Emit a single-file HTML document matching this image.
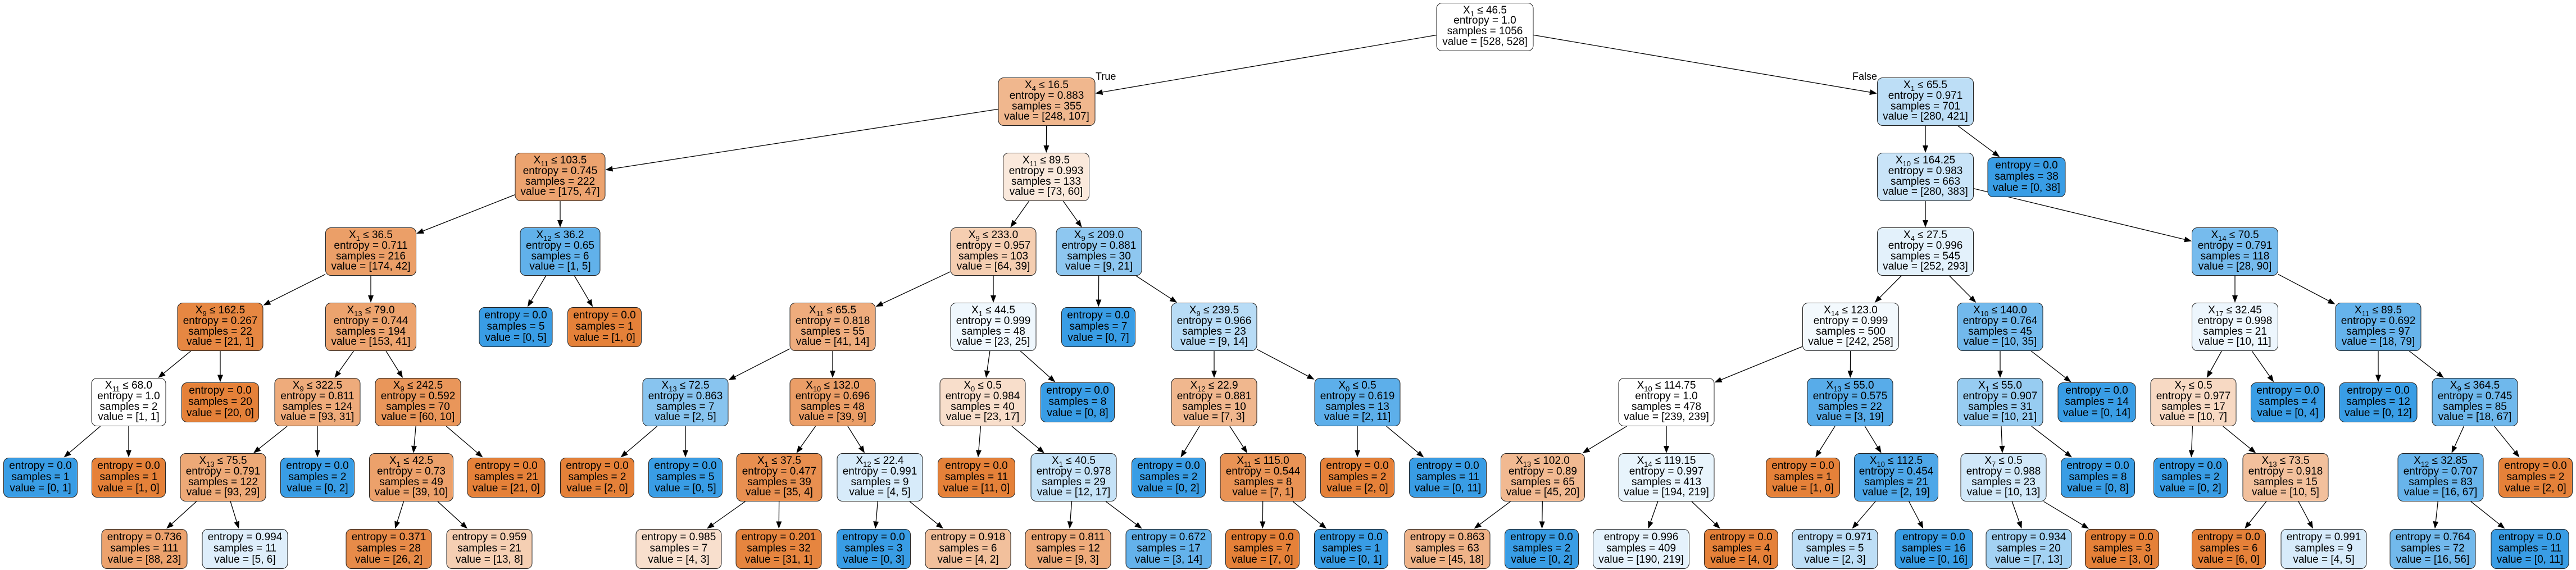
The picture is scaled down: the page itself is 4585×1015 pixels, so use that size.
<!DOCTYPE html>
<html><head><meta charset="utf-8">
<style>
html,body{margin:0;padding:0;background:#fff;}
body{width:4585px;height:1015px;position:relative;overflow:hidden;font-family:"Liberation Sans",Arial,sans-serif;}
svg#edges{position:absolute;left:0;top:0;z-index:0;}
.n{position:absolute;box-sizing:border-box;border:1.3px solid #222;border-radius:10px;transform:translateX(-50%);
 top:calc(var(--c) - var(--h)/2);display:block;text-align:center;padding-top:4px;
 font-size:19px;color:#000;white-space:nowrap;z-index:1;background-clip:padding-box;}
.d{--h:86px;height:86px;line-height:18.8px;}
.f{--h:71px;height:71px;line-height:20px;}
.l0{--c:47.7px}.l1{--c:181px}.l2{--c:315px}.l3{--c:448px}.l4{--c:582px}.l5{--c:716px}.l6{--c:850px}.l7{--c:977px}
sub{font-size:13px;vertical-align:-5px;line-height:0;}
.lab{position:absolute;font-size:18px;z-index:2;}
</style></head><body>
<svg id="edges" width="4585" height="1015"></svg>
<div class="lab" style="left:1950px;top:126px">True</div>
<div class="lab" style="left:3297px;top:126px">False</div>

<div id="n0" class="n d l0" style="left:2643px;width:173px;background:#fff">X<sub>1</sub> ≤ 46.5<br>entropy = 1.0<br>samples = 1056<br>value = [528, 528]</div>
<div id="n1" class="n d l1" style="left:1863px;width:173px;background:rgba(229,129,57,.569)">X<sub>4</sub> ≤ 16.5<br>entropy = 0.883<br>samples = 355<br>value = [248, 107]</div>
<div id="n2" class="n d l1" style="left:3427px;width:172px;background:rgba(57,157,229,.335)">X<sub>1</sub> ≤ 65.5<br>entropy = 0.971<br>samples = 701<br>value = [280, 421]</div>
<div id="n3" class="n d l2" style="left:997px;width:161px;background:rgba(229,129,57,.731)">X<sub>11</sub> ≤ 103.5<br>entropy = 0.745<br>samples = 222<br>value = [175, 47]</div>
<div id="n4" class="n d l2" style="left:1862px;width:154px;background:rgba(229,129,57,.178)">X<sub>11</sub> ≤ 89.5<br>entropy = 0.993<br>samples = 133<br>value = [73, 60]</div>
<div id="n5" class="n d l2" style="left:3427px;width:172px;background:rgba(57,157,229,.269)">X<sub>10</sub> ≤ 164.25<br>entropy = 0.983<br>samples = 663<br>value = [280, 383]</div>
<div id="n6" class="n f l2" style="left:3607px;width:139px;background:rgb(57,157,229)">entropy = 0.0<br>samples = 38<br>value = [0, 38]</div>
<div id="n7" class="n d l3" style="left:660px;width:162px;background:rgba(229,129,57,.759)">X<sub>1</sub> ≤ 36.5<br>entropy = 0.711<br>samples = 216<br>value = [174, 42]</div>
<div id="n8" class="n d l3" style="left:997px;width:143px;background:rgba(57,157,229,.8)">X<sub>12</sub> ≤ 36.2<br>entropy = 0.65<br>samples = 6<br>value = [1, 5]</div>
<div id="n9" class="n d l3" style="left:1768px;width:153px;background:rgba(229,129,57,.391)">X<sub>9</sub> ≤ 233.0<br>entropy = 0.957<br>samples = 103<br>value = [64, 39]</div>
<div id="n10" class="n d l3" style="left:1956px;width:153px;background:rgba(57,157,229,.571)">X<sub>9</sub> ≤ 209.0<br>entropy = 0.881<br>samples = 30<br>value = [9, 21]</div>
<div id="n11" class="n d l3" style="left:3427px;width:172px;background:rgba(57,157,229,.14)">X<sub>4</sub> ≤ 27.5<br>entropy = 0.996<br>samples = 545<br>value = [252, 293]</div>
<div id="n12" class="n d l3" style="left:3978px;width:154px;background:rgba(57,157,229,.689)">X<sub>14</sub> ≤ 70.5<br>entropy = 0.791<br>samples = 118<br>value = [28, 90]</div>

<div id="n13" class="n d l4" style="left:392px;width:153px;background:rgba(229,129,57,.952)">X<sub>9</sub> ≤ 162.5<br>entropy = 0.267<br>samples = 22<br>value = [21, 1]</div>
<div id="n14" class="n d l4" style="left:660px;width:162px;background:rgba(229,129,57,.732)">X<sub>13</sub> ≤ 79.0<br>entropy = 0.744<br>samples = 194<br>value = [153, 41]</div>
<div id="n15" class="n f l4" style="left:918px;width:131px;background:rgb(57,157,229)">entropy = 0.0<br>samples = 5<br>value = [0, 5]</div>
<div id="n16" class="n f l4" style="left:1076px;width:132px;background:rgb(229,129,57)">entropy = 0.0<br>samples = 1<br>value = [1, 0]</div>
<div id="n17" class="n d l4" style="left:1482px;width:153px;background:rgba(229,129,57,.659)">X<sub>11</sub> ≤ 65.5<br>entropy = 0.818<br>samples = 55<br>value = [41, 14]</div>
<div id="n18" class="n d l4" style="left:1768px;width:153px;background:rgba(57,157,229,.08)">X<sub>1</sub> ≤ 44.5<br>entropy = 0.999<br>samples = 48<br>value = [23, 25]</div>
<div id="n19" class="n f l4" style="left:1955px;width:132px;background:rgb(57,157,229)">entropy = 0.0<br>samples = 7<br>value = [0, 7]</div>
<div id="n20" class="n d l4" style="left:2161px;width:153px;background:rgba(57,157,229,.357)">X<sub>9</sub> ≤ 239.5<br>entropy = 0.966<br>samples = 23<br>value = [9, 14]</div>
<div id="n21" class="n d l4" style="left:3294px;width:172px;background:rgba(57,157,229,.062)">X<sub>14</sub> ≤ 123.0<br>entropy = 0.999<br>samples = 500<br>value = [242, 258]</div>
<div id="n22" class="n d l4" style="left:3560px;width:153px;background:rgba(57,157,229,.714)">X<sub>10</sub> ≤ 140.0<br>entropy = 0.764<br>samples = 45<br>value = [10, 35]</div>
<div id="n23" class="n d l4" style="left:3978px;width:154px;background:rgba(57,157,229,.091)">X<sub>17</sub> ≤ 32.45<br>entropy = 0.998<br>samples = 21<br>value = [10, 11]</div>
<div id="n24" class="n d l4" style="left:4233px;width:153px;background:rgba(57,157,229,.772)">X<sub>11</sub> ≤ 89.5<br>entropy = 0.692<br>samples = 97<br>value = [18, 79]</div>

<div id="n25" class="n d l5" style="left:229px;width:133px;background:#fff">X<sub>11</sub> ≤ 68.0<br>entropy = 1.0<br>samples = 2<br>value = [1, 1]</div>
<div id="n26" class="n f l5" style="left:392px;width:138px;background:rgb(229,129,57)">entropy = 0.0<br>samples = 20<br>value = [20, 0]</div>
<div id="n27" class="n d l5" style="left:565px;width:153px;background:rgba(229,129,57,.667)">X<sub>9</sub> ≤ 322.5<br>entropy = 0.811<br>samples = 124<br>value = [93, 31]</div>
<div id="n28" class="n d l5" style="left:744px;width:153px;background:rgba(229,129,57,.833)">X<sub>9</sub> ≤ 242.5<br>entropy = 0.592<br>samples = 70<br>value = [60, 10]</div>
<div id="n29" class="n d l5" style="left:1220px;width:153px;background:rgba(57,157,229,.6)">X<sub>13</sub> ≤ 72.5<br>entropy = 0.863<br>samples = 7<br>value = [2, 5]</div>
<div id="n30" class="n d l5" style="left:1482px;width:153px;background:rgba(229,129,57,.769)">X<sub>10</sub> ≤ 132.0<br>entropy = 0.696<br>samples = 48<br>value = [39, 9]</div>
<div id="n31" class="n d l5" style="left:1749px;width:153px;background:rgba(229,129,57,.261)">X<sub>0</sub> ≤ 0.5<br>entropy = 0.984<br>samples = 40<br>value = [23, 17]</div>
<div id="n32" class="n f l5" style="left:1918px;width:132px;background:rgb(57,157,229)">entropy = 0.0<br>samples = 8<br>value = [0, 8]</div>
<div id="n33" class="n d l5" style="left:2161px;width:153px;background:rgba(229,129,57,.571)">X<sub>12</sub> ≤ 22.9<br>entropy = 0.881<br>samples = 10<br>value = [7, 3]</div>
<div id="n34" class="n d l5" style="left:2416px;width:153px;background:rgba(57,157,229,.818)">X<sub>0</sub> ≤ 0.5<br>entropy = 0.619<br>samples = 13<br>value = [2, 11]</div>
<div id="n35" class="n d l5" style="left:2966px;width:171px;background:#fff">X<sub>10</sub> ≤ 114.75<br>entropy = 1.0<br>samples = 478<br>value = [239, 239]</div>
<div id="n36" class="n d l5" style="left:3293px;width:153px;background:rgba(57,157,229,.842)">X<sub>13</sub> ≤ 55.0<br>entropy = 0.575<br>samples = 22<br>value = [3, 19]</div>
<div id="n37" class="n d l5" style="left:3560px;width:153px;background:rgba(57,157,229,.524)">X<sub>1</sub> ≤ 55.0<br>entropy = 0.907<br>samples = 31<br>value = [10, 21]</div>
<div id="n38" class="n f l5" style="left:3732px;width:139px;background:rgb(57,157,229)">entropy = 0.0<br>samples = 14<br>value = [0, 14]</div>
<div id="n39" class="n d l5" style="left:3904px;width:153px;background:rgba(229,129,57,.3)">X<sub>7</sub> ≤ 0.5<br>entropy = 0.977<br>samples = 17<br>value = [10, 7]</div>
<div id="n40" class="n f l5" style="left:4072px;width:132px;background:rgb(57,157,229)">entropy = 0.0<br>samples = 4<br>value = [0, 4]</div>
<div id="n41" class="n f l5" style="left:4233px;width:139px;background:rgb(57,157,229)">entropy = 0.0<br>samples = 12<br>value = [0, 12]</div>
<div id="n42" class="n d l5" style="left:4405px;width:153px;background:rgba(57,157,229,.731)">X<sub>9</sub> ≤ 364.5<br>entropy = 0.745<br>samples = 85<br>value = [18, 67]</div>

<div id="n43" class="n f l6" style="left:72px;width:132px;background:rgb(57,157,229)">entropy = 0.0<br>samples = 1<br>value = [0, 1]</div>
<div id="n44" class="n f l6" style="left:229px;width:132px;background:rgb(229,129,57)">entropy = 0.0<br>samples = 1<br>value = [1, 0]</div>
<div id="n45" class="n d l6" style="left:397px;width:153px;background:rgba(229,129,57,.688)">X<sub>13</sub> ≤ 75.5<br>entropy = 0.791<br>samples = 122<br>value = [93, 29]</div>
<div id="n46" class="n f l6" style="left:565px;width:132px;background:rgb(57,157,229)">entropy = 0.0<br>samples = 2<br>value = [0, 2]</div>
<div id="n47" class="n d l6" style="left:732px;width:150px;background:rgba(229,129,57,.744)">X<sub>1</sub> ≤ 42.5<br>entropy = 0.73<br>samples = 49<br>value = [39, 10]</div>
<div id="n48" class="n f l6" style="left:901px;width:139px;background:rgb(229,129,57)">entropy = 0.0<br>samples = 21<br>value = [21, 0]</div>
<div id="n49" class="n f l6" style="left:1063px;width:132px;background:rgb(229,129,57)">entropy = 0.0<br>samples = 2<br>value = [2, 0]</div>
<div id="n50" class="n f l6" style="left:1220px;width:132px;background:rgb(57,157,229)">entropy = 0.0<br>samples = 5<br>value = [0, 5]</div>
<div id="n51" class="n d l6" style="left:1387px;width:153px;background:rgba(229,129,57,.886)">X<sub>1</sub> ≤ 37.5<br>entropy = 0.477<br>samples = 39<br>value = [35, 4]</div>
<div id="n52" class="n d l6" style="left:1566px;width:153px;background:rgba(57,157,229,.2)">X<sub>12</sub> ≤ 22.4<br>entropy = 0.991<br>samples = 9<br>value = [4, 5]</div>
<div id="n53" class="n f l6" style="left:1738px;width:138px;background:rgb(229,129,57)">entropy = 0.0<br>samples = 11<br>value = [11, 0]</div>
<div id="n54" class="n d l6" style="left:1911px;width:153px;background:rgba(57,157,229,.294)">X<sub>1</sub> ≤ 40.5<br>entropy = 0.978<br>samples = 29<br>value = [12, 17]</div>
<div id="n55" class="n f l6" style="left:2080px;width:132px;background:rgb(57,157,229)">entropy = 0.0<br>samples = 2<br>value = [0, 2]</div>
<div id="n56" class="n d l6" style="left:2248px;width:153px;background:rgba(229,129,57,.857)">X<sub>11</sub> ≤ 115.0<br>entropy = 0.544<br>samples = 8<br>value = [7, 1]</div>
<div id="n57" class="n f l6" style="left:2416px;width:132px;background:rgb(229,129,57)">entropy = 0.0<br>samples = 2<br>value = [2, 0]</div>
<div id="n58" class="n f l6" style="left:2577px;width:138px;background:rgb(57,157,229)">entropy = 0.0<br>samples = 11<br>value = [0, 11]</div>
<div id="n59" class="n d l6" style="left:2746px;width:150px;background:rgba(229,129,57,.556)">X<sub>13</sub> ≤ 102.0<br>entropy = 0.89<br>samples = 65<br>value = [45, 20]</div>
<div id="n60" class="n d l6" style="left:2966px;width:171px;background:rgba(57,157,229,.114)">X<sub>14</sub> ≤ 119.15<br>entropy = 0.997<br>samples = 413<br>value = [194, 219]</div>
<div id="n61" class="n f l6" style="left:3209px;width:132px;background:rgb(229,129,57)">entropy = 0.0<br>samples = 1<br>value = [1, 0]</div>
<div id="n62" class="n d l6" style="left:3375px;width:150px;background:rgba(57,157,229,.895)">X<sub>10</sub> ≤ 112.5<br>entropy = 0.454<br>samples = 21<br>value = [2, 19]</div>
<div id="n63" class="n d l6" style="left:3566px;width:153px;background:rgba(57,157,229,.231)">X<sub>7</sub> ≤ 0.5<br>entropy = 0.988<br>samples = 23<br>value = [10, 13]</div>
<div id="n64" class="n f l6" style="left:3734px;width:132px;background:rgb(57,157,229)">entropy = 0.0<br>samples = 8<br>value = [0, 8]</div>
<div id="n65" class="n f l6" style="left:3899px;width:132px;background:rgb(57,157,229)">entropy = 0.0<br>samples = 2<br>value = [0, 2]</div>
<div id="n66" class="n d l6" style="left:4068px;width:153px;background:rgba(229,129,57,.5)">X<sub>13</sub> ≤ 73.5<br>entropy = 0.918<br>samples = 15<br>value = [10, 5]</div>
<div id="n67" class="n d l6" style="left:4344px;width:153px;background:rgba(57,157,229,.761)">X<sub>12</sub> ≤ 32.85<br>entropy = 0.707<br>samples = 83<br>value = [16, 67]</div>
<div id="n68" class="n f l6" style="left:4513px;width:132px;background:rgb(229,129,57)">entropy = 0.0<br>samples = 2<br>value = [2, 0]</div>

<div id="n69" class="n f l7" style="left:257px;width:153px;background:rgba(229,129,57,.739)">entropy = 0.736<br>samples = 111<br>value = [88, 23]</div>
<div id="n70" class="n f l7" style="left:436px;width:153px;background:rgba(57,157,229,.167)">entropy = 0.994<br>samples = 11<br>value = [5, 6]</div>
<div id="n71" class="n f l7" style="left:692px;width:153px;background:rgba(229,129,57,.923)">entropy = 0.371<br>samples = 28<br>value = [26, 2]</div>
<div id="n72" class="n f l7" style="left:871px;width:153px;background:rgba(229,129,57,.385)">entropy = 0.959<br>samples = 21<br>value = [13, 8]</div>
<div id="n73" class="n f l7" style="left:1208px;width:153px;background:rgba(229,129,57,.25)">entropy = 0.985<br>samples = 7<br>value = [4, 3]</div>
<div id="n74" class="n f l7" style="left:1386px;width:153px;background:rgba(229,129,57,.968)">entropy = 0.201<br>samples = 32<br>value = [31, 1]</div>
<div id="n75" class="n f l7" style="left:1555px;width:132px;background:rgb(57,157,229)">entropy = 0.0<br>samples = 3<br>value = [0, 3]</div>
<div id="n76" class="n f l7" style="left:1723px;width:153px;background:rgba(229,129,57,.5)">entropy = 0.918<br>samples = 6<br>value = [4, 2]</div>
<div id="n77" class="n f l7" style="left:1901px;width:153px;background:rgba(229,129,57,.667)">entropy = 0.811<br>samples = 12<br>value = [9, 3]</div>
<div id="n78" class="n f l7" style="left:2080px;width:153px;background:rgba(57,157,229,.786)">entropy = 0.672<br>samples = 17<br>value = [3, 14]</div>
<div id="n79" class="n f l7" style="left:2247px;width:132px;background:rgb(229,129,57)">entropy = 0.0<br>samples = 7<br>value = [7, 0]</div>
<div id="n80" class="n f l7" style="left:2405px;width:132px;background:rgb(57,157,229)">entropy = 0.0<br>samples = 1<br>value = [0, 1]</div>
<div id="n81" class="n f l7" style="left:2576px;width:153px;background:rgba(229,129,57,.6)">entropy = 0.863<br>samples = 63<br>value = [45, 18]</div>
<div id="n82" class="n f l7" style="left:2744px;width:132px;background:rgb(57,157,229)">entropy = 0.0<br>samples = 2<br>value = [0, 2]</div>
<div id="n83" class="n f l7" style="left:2921px;width:172px;background:rgba(57,157,229,.132)">entropy = 0.996<br>samples = 409<br>value = [190, 219]</div>
<div id="n84" class="n f l7" style="left:3099px;width:132px;background:rgb(229,129,57)">entropy = 0.0<br>samples = 4<br>value = [4, 0]</div>
<div id="n85" class="n f l7" style="left:3266px;width:153px;background:rgba(57,157,229,.333)">entropy = 0.971<br>samples = 5<br>value = [2, 3]</div>
<div id="n86" class="n f l7" style="left:3442px;width:139px;background:rgb(57,157,229)">entropy = 0.0<br>samples = 16<br>value = [0, 16]</div>
<div id="n87" class="n f l7" style="left:3611px;width:153px;background:rgba(57,157,229,.462)">entropy = 0.934<br>samples = 20<br>value = [7, 13]</div>
<div id="n88" class="n f l7" style="left:3777px;width:132px;background:rgb(229,129,57)">entropy = 0.0<br>samples = 3<br>value = [3, 0]</div>
<div id="n89" class="n f l7" style="left:3967px;width:132px;background:rgb(229,129,57)">entropy = 0.0<br>samples = 6<br>value = [6, 0]</div>
<div id="n90" class="n f l7" style="left:4136px;width:153px;background:rgba(57,157,229,.2)">entropy = 0.991<br>samples = 9<br>value = [4, 5]</div>
<div id="n91" class="n f l7" style="left:4330px;width:153px;background:rgba(57,157,229,.714)">entropy = 0.764<br>samples = 72<br>value = [16, 56]</div>
<div id="n92" class="n f l7" style="left:4503px;width:139px;background:rgb(57,157,229)">entropy = 0.0<br>samples = 11<br>value = [0, 11]</div>

<script>
(function(){
var E=[[0,1],[0,2],[1,3],[1,4],[2,5],[2,6],[3,7],[3,8],[4,9],[4,10],[5,11],[5,12],[7,13],[7,14],[8,15],[8,16],[9,17],[9,18],[10,19],[10,20],[11,21],[11,22],[12,23],[12,24],[13,25],[13,26],[14,27],[14,28],[17,29],[17,30],[18,31],[18,32],[20,33],[20,34],[21,35],[21,36],[22,37],[22,38],[23,39],[23,40],[24,41],[24,42],[25,43],[25,44],[27,45],[27,46],[28,47],[28,48],[29,49],[29,50],[30,51],[30,52],[31,53],[31,54],[33,55],[33,56],[34,57],[34,58],[35,59],[35,60],[36,61],[36,62],[37,63],[37,64],[39,65],[39,66],[42,67],[42,68],[45,69],[45,70],[47,71],[47,72],[51,73],[51,74],[52,75],[52,76],[54,77],[54,78],[56,79],[56,80],[59,81],[59,82],[60,83],[60,84],[62,85],[62,86],[63,87],[63,88],[66,89],[66,90],[67,91],[67,92]];
var svg=document.getElementById('edges'),out='';
function box(i){var r=document.getElementById('n'+i).getBoundingClientRect();return {x:r.left+r.width/2,y:r.top+r.height/2,hw:r.width/2,hh:r.height/2};}
function clip(b,dx,dy){var t=Math.min(dx?b.hw/Math.abs(dx):1e9,dy?b.hh/Math.abs(dy):1e9);return [b.x+dx*t,b.y+dy*t];}
E.forEach(function(e){
 var p=box(e[0]),c=box(e[1]);var dx=c.x-p.x,dy=c.y-p.y;
 var a=clip(p,dx,dy),b=clip(c,-dx,-dy);
 var L=Math.sqrt((b[0]-a[0])*(b[0]-a[0])+(b[1]-a[1])*(b[1]-a[1]));var ux=(b[0]-a[0])/L,uy=(b[1]-a[1])/L;
 var al=13,aw=5;var bx=b[0]-ux*al,by=b[1]-uy*al;
 out+='<line x1="'+a[0]+'" y1="'+a[1]+'" x2="'+bx+'" y2="'+by+'" stroke="#000" stroke-width="1.3"/>';
 out+='<polygon points="'+b[0]+','+b[1]+' '+(bx-uy*aw)+','+(by+ux*aw)+' '+(bx+uy*aw)+','+(by-ux*aw)+'" fill="#000"/>';
});
svg.innerHTML=out;
})();
</script>
</body></html>
